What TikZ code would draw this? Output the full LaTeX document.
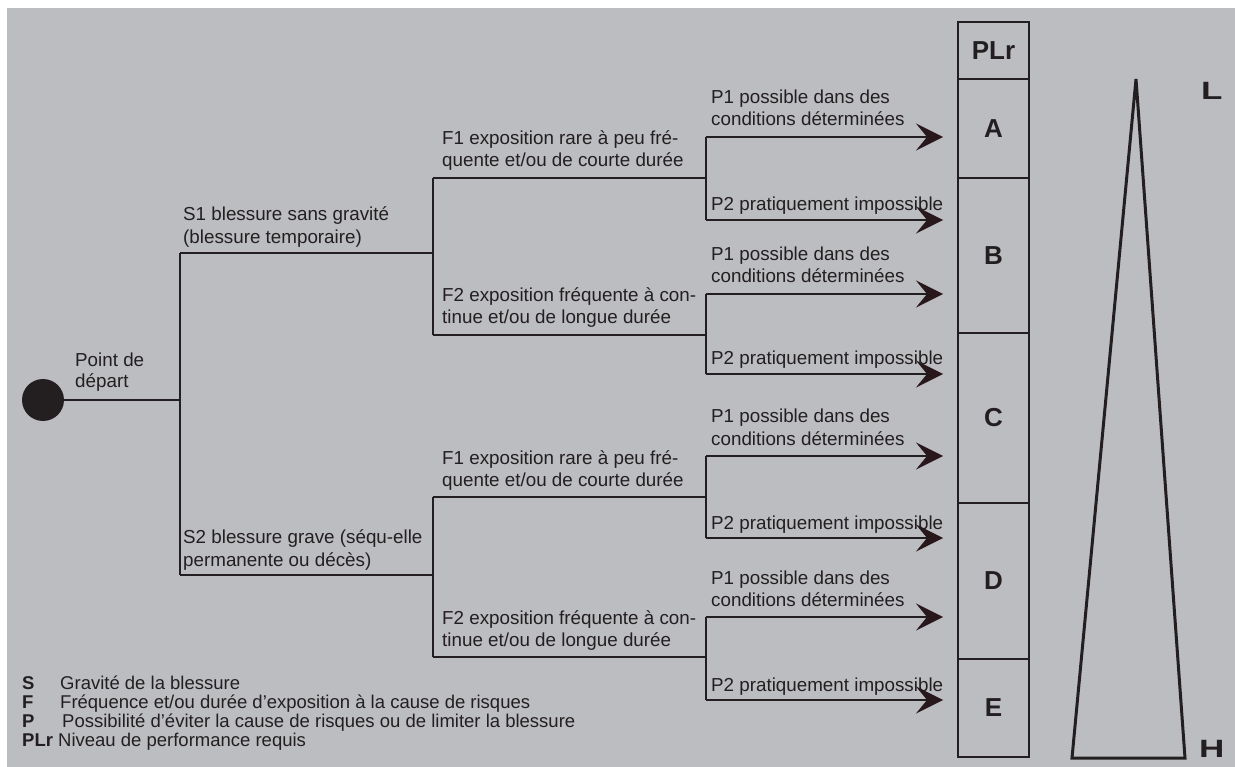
\documentclass[tikz,border=0pt]{standalone}
\usepackage{fontspec}
\setmainfont{Liberation Sans}
\usetikzlibrary{arrows.meta}
\definecolor{bg}{RGB}{188,189,193}
\definecolor{ink}{RGB}{35,31,32}
\definecolor{arrowc}{RGB}{40,24,28}
\tikzset{
  tree/.style={draw=ink, line width=1.6pt},
  parrow/.style={tree, -{Stealth[length=27pt, width=27pt, inset=11pt, color=arrowc]}},
  txt/.style={text=ink, inner sep=0pt, anchor=base west, font=\fontsize{18.8}{22}\selectfont},
  leg/.style={text=ink, inner sep=0pt, anchor=base west, font=\fontsize{18.5}{19}\selectfont},
  plbox/.style={draw=ink, line width=1.8pt, minimum width=71pt, inner sep=0pt, text=ink, font=\fontsize{26}{26}\selectfont\bfseries},
}
\begin{document}
\begin{tikzpicture}[x=1pt, y=-1pt]
\useasboundingbox (0,0) rectangle (1235,767);
\fill[white] (0,0) rectangle (1235,767);
\fill[bg] (7,8) rectangle (1235,767);

% start
\node[circle, fill=ink, minimum size=42pt, inner sep=0pt] (start) at (43,400) {};
\node[txt] (pd1) at (75,367) {Point de};
\node[txt] (pd2) at (75,388) {départ};

% junction coordinates
\coordinate (J0) at (180,400);
\coordinate (S1) at (180,253); \coordinate (S2) at (180,575);
\coordinate (S1e) at (433,253); \coordinate (S2e) at (433,575);
\coordinate (F11) at (433,178); \coordinate (F12) at (433,335);
\coordinate (F21) at (433,497); \coordinate (F22) at (433,657);
\coordinate (F11e) at (706,178); \coordinate (F12e) at (706,335);
\coordinate (F21e) at (706,497); \coordinate (F22e) at (706,657);
\coordinate (P111) at (706,137); \coordinate (P112) at (706,220);
\coordinate (P121) at (706,294); \coordinate (P122) at (706,374);
\coordinate (P211) at (706,456); \coordinate (P212) at (706,538);
\coordinate (P221) at (706,617); \coordinate (P222) at (706,700);
\coordinate (T111) at (943,137); \coordinate (T112) at (943,220);
\coordinate (T121) at (943,294); \coordinate (T122) at (943,374);
\coordinate (T211) at (943,456); \coordinate (T212) at (943,538);
\coordinate (T221) at (943,617); \coordinate (T222) at (943,700);

% tree lines
\draw[tree] (start) -- (J0);
\draw[tree] (S1) -- (S2);
\draw[tree] (S1) -- (S1e); \draw[tree] (S2) -- (S2e);
\draw[tree] (F11) -- (F12); \draw[tree] (F21) -- (F22);
\draw[tree] (F11) -- (F11e); \draw[tree] (F12) -- (F12e);
\draw[tree] (F21) -- (F21e); \draw[tree] (F22) -- (F22e);
\draw[tree] (P111) -- (P112); \draw[tree] (P121) -- (P122);
\draw[tree] (P211) -- (P212); \draw[tree] (P221) -- (P222);
\draw[parrow] (P111) -- (T111); \draw[parrow] (P112) -- (T112);
\draw[parrow] (P121) -- (T121); \draw[parrow] (P122) -- (T122);
\draw[parrow] (P211) -- (T211); \draw[parrow] (P212) -- (T212);
\draw[parrow] (P221) -- (T221); \draw[parrow] (P222) -- (T222);

% S labels
\node[txt] (s1a) at (183,221) {S1 blessure sans gravité};
\node[txt] (s1b) at (183,244) {(blessure temporaire)};
\node[txt] (s2a) at (183,543) {S2 blessure grave (séqu-elle};
\node[txt] (s2b) at (183,566) {permanente ou décès)};

% F labels
\node[txt] (f11a) at (442,145) {F1 exposition rare à peu fré-};
\node[txt] (f11b) at (442,167) {quente et/ou de courte durée};
\node[txt] (f12a) at (442,302) {F2 exposition fréquente à con-};
\node[txt] (f12b) at (442,324) {tinue et/ou de longue durée};
\node[txt] (f21a) at (442,464) {F1 exposition rare à peu fré-};
\node[txt] (f21b) at (442,486) {quente et/ou de courte durée};
\node[txt] (f22a) at (442,624) {F2 exposition fréquente à con-};
\node[txt] (f22b) at (442,646) {tinue et/ou de longue durée};

% P labels
\node[txt] (p111a) at (711,104) {P1 possible dans des};
\node[txt] (p111b) at (711,126) {conditions déterminées};
\node[txt] (p112) at (711,211) {P2 pratiquement impossible};
\node[txt] (p121a) at (711,261) {P1 possible dans des};
\node[txt] (p121b) at (711,283) {conditions déterminées};
\node[txt] (p122) at (711,365) {P2 pratiquement impossible};
\node[txt] (p211a) at (711,423) {P1 possible dans des};
\node[txt] (p211b) at (711,445) {conditions déterminées};
\node[txt] (p212) at (711,529) {P2 pratiquement impossible};
\node[txt] (p221a) at (711,584) {P1 possible dans des};
\node[txt] (p221b) at (711,606) {conditions déterminées};
\node[txt] (p222) at (711,691) {P2 pratiquement impossible};

% PLr column
\node[plbox, minimum height=57pt] (plr) at (993.5,50.5) {PLr};
\node[plbox, minimum height=99pt] (la) at (993.5,128.5) {A};
\node[plbox, minimum height=155pt] (lb) at (993.5,255.5) {B};
\node[plbox, minimum height=170pt] (lc) at (993.5,418) {C};
\node[plbox, minimum height=156pt] (ld) at (993.5,581) {D};
\node[plbox, minimum height=98pt] (le) at (993.5,708) {E};

% triangle
\draw[draw=ink, line width=3pt, line join=miter] (1136,79) -- (1072,758) -- (1185,758) -- cycle;
\node[txt, font=\fontsize{25}{25}\selectfont\bfseries] (lowL) at (1201,100) {\scalebox{1.4}[1]{L}};
\node[txt, font=\fontsize{25}{25}\selectfont\bfseries] (highH) at (1199,757) {\scalebox{1.4}[1]{H}};

% legend
\node[leg] (lgS) at (22,689) {\bfseries S};
\node[leg] (lgSt) at (60,689) {Gravité de la blessure};
\node[leg] (lgF) at (22,708) {\bfseries F};
\node[leg] (lgFt) at (60,708) {Fréquence et/ou durée d’exposition à la cause de risques};
\node[leg] (lgP) at (22,727) {\bfseries P};
\node[leg] (lgPt) at (62,727) {Possibilité d’éviter la cause de risques ou de limiter la blessure};
\node[leg] (lgL) at (22,746) {\textbf{PLr} Niveau de performance requis};
\end{tikzpicture}
\end{document}
